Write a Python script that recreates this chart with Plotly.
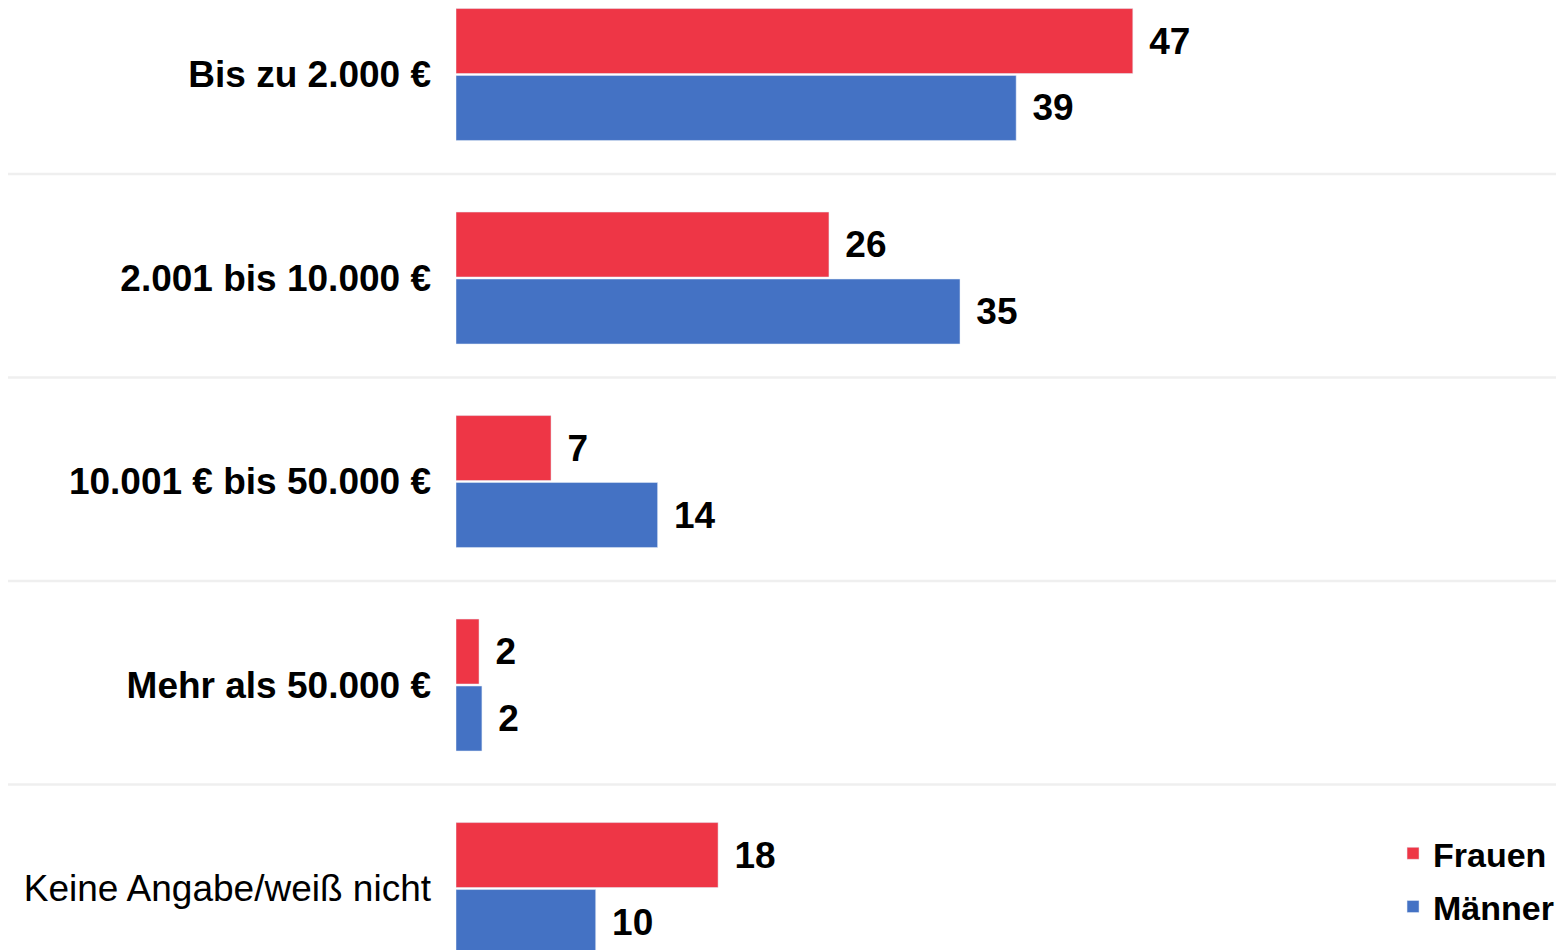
import plotly.graph_objects as go

categories = [
    "<b>Bis zu 2.000 €</b>",
    "<b>2.001 bis 10.000 €</b>",
    "<b>10.001 € bis 50.000 €</b>",
    "<b>Mehr als 50.000 €</b>",
    "Keine Angabe/weiß nicht",
]
frauen = [47.0, 25.9, 6.6, 1.6, 18.2]
maenner = [38.9, 35.0, 14.0, 1.8, 9.7]

RED = "#EE3646"
BLUE = "#4472C4"
FONT = "Liberation Sans, Arial, sans-serif"

# the page puts the plot 8px in from the top-left corner
W, H = 1556, 942
LEFT = 448
PX_PER_UNIT = 14.4

fig = go.Figure()
for name, vals, col, grp in [("Frauen", frauen, RED, "f"), ("Männer", maenner, BLUE, "m")]:
    fig.add_trace(go.Bar(
        y=categories, x=vals, name=name, orientation="h", legendgroup=grp,
        marker_color=col,
        texttemplate="\u00a0\u200a%{x:.0f}", textposition="outside",
        textfont=dict(size=37, color="black", family=FONT, weight="bold"),
        cliponaxis=False,
    ))

# light separators between the categories, running under the labels too
for i in range(len(categories) - 1):
    fig.add_shape(
        type="line", xref="paper", yref="y",
        x0=-LEFT / (W - LEFT), x1=1, y0=i + 0.489, y1=i + 0.489,
        line=dict(color="#EFEFEF", width=2.5), layer="below",
    )

fig.update_layout(
    width=W, height=H,
    margin=dict(l=LEFT, r=0, t=0, b=0),
    paper_bgcolor="white", plot_bgcolor="white",
    barmode="group", bargap=0.342, bargroupgap=0.03,
    font=dict(family=FONT, color="black"),
    showlegend=True,
    legend=dict(
        x=0.8457, y=0.133, xanchor="left", yanchor="top",
        traceorder="grouped", tracegroupgap=6,
        font=dict(size=34, family=FONT, weight="bold"),
        bgcolor="rgba(0,0,0,0)",
    ),
)
fig.update_xaxes(visible=False, range=[0, (W - LEFT) / PX_PER_UNIT], fixedrange=True)
fig.update_yaxes(
    range=[4.302, -0.3268], showgrid=False, zeroline=False, showline=False,
    ticks="", tickfont=dict(size=37, family=FONT, color="black"),
    ticklabelstandoff=24, fixedrange=True,
)

fig.write_html("out.html")
